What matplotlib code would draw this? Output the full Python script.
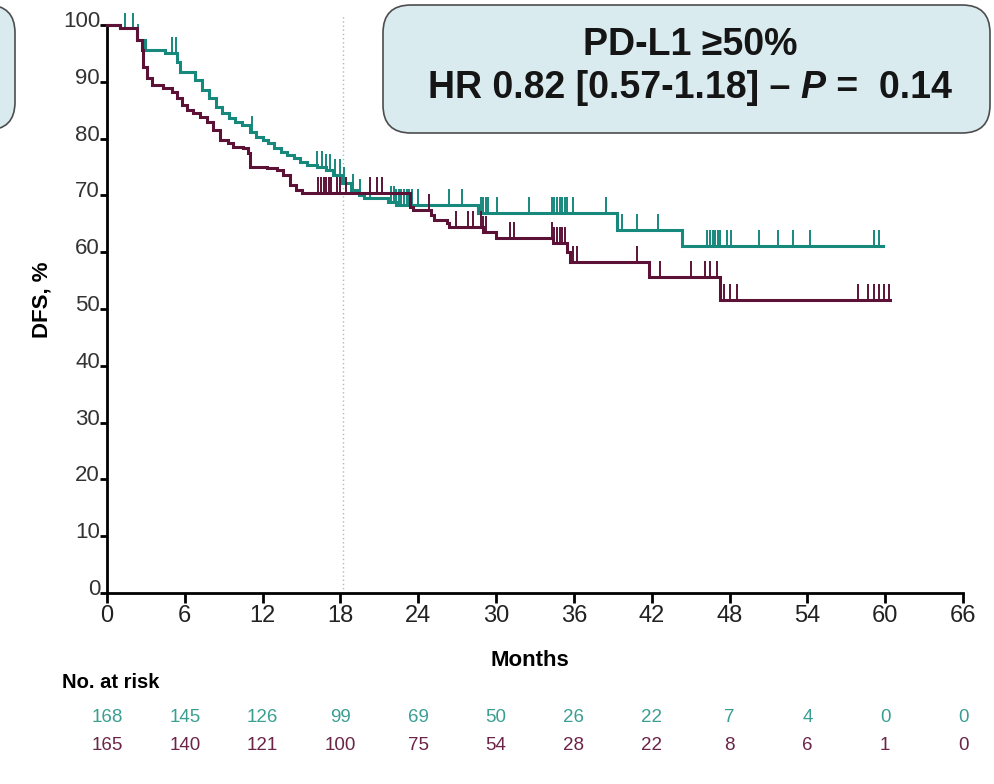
import numpy as np
import matplotlib
matplotlib.use("Agg")
import matplotlib.pyplot as plt
from matplotlib.patches import FancyBboxPatch
from matplotlib.transforms import ScaledTranslation, blended_transform_factory

# ---- data -------------------------------------------------------------
# Kaplan-Meier steps: survival level (%) holding from each time (months)
teal_t = [0, 1.0, 2.3, 2.9, 4.5, 5.4, 5.6, 6.8, 7.3, 7.9, 8.4, 8.9, 9.4, 9.9,
          10.4, 11.0, 11.5, 12.0, 12.4, 12.9, 13.4, 13.9, 14.4, 14.9, 15.4,
          16.2, 16.9, 17.4, 18.1, 18.8, 19.4, 19.8, 21.7, 22.3, 28.6, 39.3, 44.3]
teal_s = [100, 99.4, 97.4, 95.6, 95.1, 93.5, 91.7, 90.3, 88.6, 87.1, 85.6, 84.5,
          83.6, 82.9, 82.4, 81.2, 80.3, 79.8, 79.2, 78.3, 77.6, 77.1, 76.6, 75.9,
          75.4, 75.0, 74.5, 73.6, 72.2, 71.0, 70.1, 69.5, 68.9, 68.3, 66.9, 63.9, 61.1]
teal_end = 59.8

maroon_t = [0, 1.0, 2.3, 2.7, 2.8, 3.1, 3.5, 4.3, 5.0, 5.4, 5.8, 6.2, 6.6, 7.2,
            7.7, 8.2, 8.7, 9.3, 9.7, 10.5, 10.9, 11.05, 12.3, 13.1, 13.6, 14.1,
            14.6, 15.0, 23.4, 23.6, 25.0, 25.2, 26.2, 26.4, 29.0, 30.0, 34.4,
            35.5, 35.7, 41.8, 47.3]
maroon_s = [100, 99.4, 97.4, 95.6, 92.6, 90.7, 89.4, 88.9, 88.2, 87.1, 85.9, 85.0,
            84.5, 83.8, 82.9, 81.5, 79.8, 79.2, 78.5, 78.3, 77.5, 75.0, 74.8, 74.5,
            73.6, 71.8, 71.0, 70.4, 68.0, 67.4, 66.5, 65.7, 65.1, 64.4, 63.6, 62.5,
            61.6, 60.0, 58.3, 55.6, 51.6]
maroon_end = 60.4

# censoring times (months)
teal_cens = [1.4, 2.0, 2.4, 5.0, 5.3, 11.2, 16.2, 16.6, 16.9, 17.2, 17.6, 18.0,
             18.3, 19.0, 19.5, 20.3, 21.9, 22.1, 22.3, 22.5, 22.7, 22.9, 23.1,
             23.3, 23.5, 24.0, 26.4, 27.4, 28.8, 29.0, 29.2, 29.4, 30.1, 32.5,
             34.3, 34.5, 34.7, 34.9, 35.1, 35.3, 35.5, 35.9, 38.5, 39.7, 40.9,
             42.5, 46.3, 46.5, 46.7, 46.9, 47.1, 47.3, 47.8, 48.1, 50.3, 51.7,
             52.9, 54.2, 59.1, 59.5]
maroon_cens = [16.3, 16.5, 16.7, 16.9, 17.1, 17.3, 17.7, 18.0, 18.4, 20.3, 20.8,
               21.2, 24.8, 26.9, 27.8, 28.2, 28.8, 29.0, 29.2, 31.1, 31.4, 34.3,
               34.5, 34.7, 34.9, 35.1, 35.3, 35.9, 36.2, 40.9, 42.6, 45.0, 46.1,
               46.5, 47.0, 47.6, 48.0, 48.6, 57.9, 58.7, 59.1, 59.5, 59.9, 60.3]

risk_times = [0, 6, 12, 18, 24, 30, 36, 42, 48, 54, 60, 66]
risk_teal = [168, 145, 126, 99, 69, 50, 26, 22, 7, 4, 0, 0]
risk_maroon = [165, 140, 121, 100, 75, 54, 28, 22, 8, 6, 1, 0]

x_ticks = list(range(0, 67, 6))
y_ticks = list(range(0, 101, 10))
landmark = 18.2

title_line1 = "PD-L1 \u226550%"
hr_text = "HR 0.82 [0.57-1.18] \u2013 "
p_label = "P"
p_text = " =  0.14"

# ---- style --------------------------------------------------------------
TEAL = "#17887c"
MAROON = "#5c1237"
TEAL_TXT = "#3a9f92"
MAROON_TXT = "#6a2447"
SANS = ["Liberation Sans", "DejaVu Sans"]
plt.rcParams["font.family"] = SANS

W, H = 994, 784
fig = plt.figure(figsize=(W / 100, H / 100), dpi=100)

def fx(px):
    return px / W

def fy(py):
    return 1 - py / H

ax = fig.add_axes([fx(107), fy(593), fx(963) - fx(107), fy(25) - fy(593)])
ax.set_facecolor("none")
ax.set_xlim(0, 66)
ax.set_ylim(0, 100)


def step_value(times, levels, t):
    i = np.searchsorted(times, t, side="right") - 1
    return levels[i]


def draw_curve(times, levels, end, cens, color):
    x = list(times) + [end]
    y = list(levels) + [levels[-1]]
    ax.plot(x, y, drawstyle="steps-post", color=color, lw=2.2,
            solid_joinstyle="miter", clip_on=False, zorder=3)
    cy = [step_value(times, levels, c) for c in cens]
    ax.vlines(cens, cy, np.array(cy) + 2.8, color=color, lw=1.4,
              clip_on=False, zorder=3)


draw_curve(teal_t, teal_s, teal_end, teal_cens, TEAL)
draw_curve(maroon_t, maroon_s, maroon_end, maroon_cens, MAROON)

# landmark dotted line
ax.plot([landmark, landmark], [0, 101.8], ls=(0, (1, 2)), color="#a8bcc2",
        lw=1.0, clip_on=False, zorder=1)

# axes styling
for side in ("top", "right"):
    ax.spines[side].set_visible(False)
for side in ("left", "bottom"):
    ax.spines[side].set_linewidth(2.0)
    ax.spines[side].set_color("black")

ax.set_xticks(x_ticks)
ax.set_yticks(y_ticks)
ax.set_xticklabels([str(v) for v in x_ticks], fontsize=17, color="#222222")
ax.set_yticklabels([str(v) for v in y_ticks], fontsize=16, color="#333333")
ax.tick_params(axis="x", direction="out", length=7, width=2.0, pad=2)
ax.tick_params(axis="y", direction="out", length=5, width=2.0, pad=0)
shift = ScaledTranslation(0, 6 / 100, fig.dpi_scale_trans)
for lab in ax.get_yticklabels():
    lab.set_transform(lab.get_transform() + shift)

# axis titles
fig.text(fx(530), fy(660), "Months", fontsize=16, fontweight="bold",
         ha="center", va="center")
fig.text(fx(42), fy(300), "DFS, %", fontsize=16, fontweight="bold",
         ha="center", va="center", rotation=90)

# number at risk
fig.text(fx(62), fy(682), "No. at risk", fontsize=14.5, fontweight="bold",
         ha="left", va="center")
tr = blended_transform_factory(ax.transData, fig.transFigure)
for t, a, b in zip(risk_times, risk_teal, risk_maroon):
    ax.text(t, fy(717), str(a), transform=tr, fontsize=13.5,
            color=TEAL_TXT, ha="center", va="center", clip_on=False)
    ax.text(t, fy(746), str(b), transform=tr, fontsize=13.5,
            color=MAROON_TXT, ha="center", va="center", clip_on=False)

# annotation boxes
def rounded_box(x0, y0, x1, y1):
    box = FancyBboxPatch((fx(x0), fy(y1)), fx(x1) - fx(x0), fy(y0) - fy(y1),
                         boxstyle="round,pad=0,rounding_size=0.028",
                         transform=fig.transFigure, facecolor="#d9ebef",
                         edgecolor="#4d4d4d", lw=1.2, zorder=-1,
                         mutation_aspect=W / H)
    fig.add_artist(box)

rounded_box(383, 5, 990, 133)
rounded_box(-80, 5, 15, 130)

fig.text(fx(690), fy(45), title_line1, fontsize=27, fontweight="bold",
         ha="center", va="center", color="#151515")
t1 = fig.text(fx(428), fy(88), hr_text, fontsize=27, fontweight="bold",
              ha="left", va="center", color="#151515")
t2 = fig.text(0, 0, p_label, fontsize=27, fontweight="bold",
              style="italic", ha="left", va="center", color="#151515")
t3 = fig.text(0, 0, p_text, fontsize=27, fontweight="bold",
              ha="left", va="center", color="#151515")

fig.canvas.draw()
r = fig.canvas.get_renderer()
bb1 = t1.get_window_extent(r)
t2.set_position((bb1.x1 / W, fy(88)))
bb2 = t2.get_window_extent(r)
t3.set_position((bb2.x1 / W, fy(88)))

fig.savefig("out.png", dpi=100, facecolor="white")
